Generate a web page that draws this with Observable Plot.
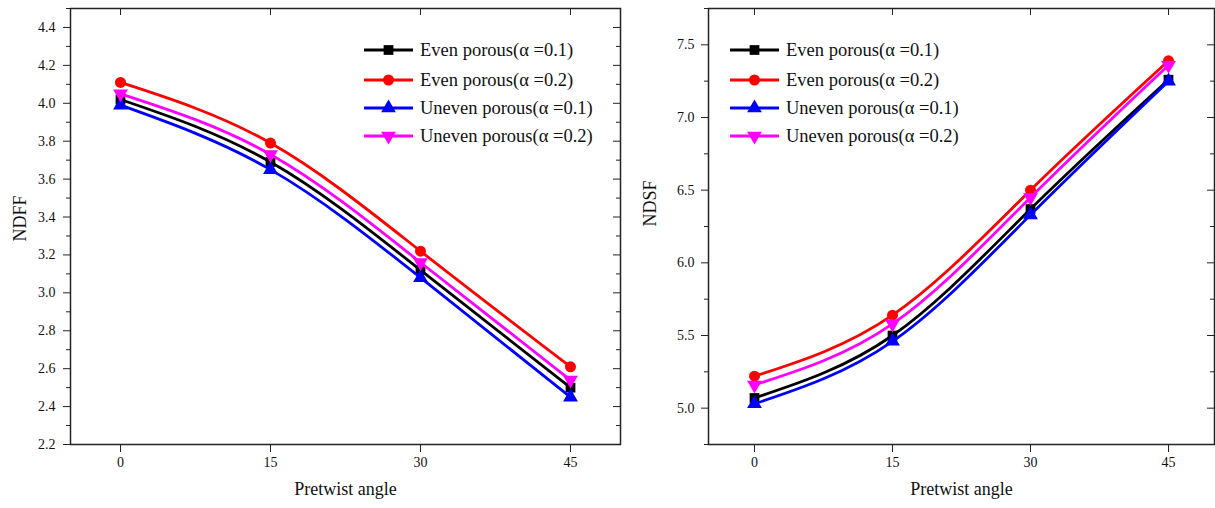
<!DOCTYPE html>
<html>
<head>
<meta charset="utf-8">
<script src="https://cdn.jsdelivr.net/npm/d3@7"></script>
<script src="https://cdn.jsdelivr.net/npm/@observablehq/plot@0.6"></script>
<style>
  body { margin: 0; background: #fff; }
  #fig { position: relative; width: 1215px; height: 508px; overflow: hidden;
         font-family: "Liberation Serif", "Times New Roman", serif; }
  #fig > svg { position: absolute; top: 0; }
</style>
</head>
<body>
<div id="fig"></div>
<script>
// Pretwist angles (degrees) shared by both panels
const angles = [0, 15, 30, 45];

// Series definitions
const seriesNames = ["Even porous(α =0.1)", "Even porous(α =0.2)", "Uneven porous(α =0.1)", "Uneven porous(α =0.2)"];
const seriesColors = ["#000000", "#ff0000", "#0000ff", "#ff00ff"];
const seriesSymbols = ["square", "circle", "triangle", "triangle"];
const seriesRotate = [0, 0, 0, 180];

// Non-dimensional fundamental frequency
const ndffEven01 = [4.02, 3.69, 3.12, 2.50];
const ndffEven02 = [4.11, 3.79, 3.22, 2.61];
const ndffUneven01 = [3.99, 3.65, 3.08, 2.45];
const ndffUneven02 = [4.05, 3.73, 3.16, 2.54];

// Non-dimensional second frequency
const ndsfEven01 = [5.07, 5.50, 6.37, 7.26];
const ndsfEven02 = [5.22, 5.64, 6.50, 7.39];
const ndsfUneven01 = [5.03, 5.46, 6.33, 7.25];
const ndsfUneven02 = [5.16, 5.58, 6.45, 7.36];

// Axis ticks
const ndffTicks = [2.2, 2.4, 2.6, 2.8, 3.0, 3.2, 3.4, 3.6, 3.8, 4.0, 4.2, 4.4];
const ndffMinor = [2.3, 2.5, 2.7, 2.9, 3.1, 3.3, 3.5, 3.7, 3.9, 4.1, 4.3, 4.5];
const ndsfTicks = [5.0, 5.5, 6.0, 6.5, 7.0, 7.5];
const ndsfMinor = [4.75, 5.25, 5.75, 6.25, 6.75, 7.25, 7.75];

const xLabel = "Pretwist angle";

const FONT = '"Liberation Serif", "Times New Roman", serif';
const INK = "#222";
const HEIGHT = 508, M_TOP = 8, M_BOTTOM = 64, M_RIGHT = 1;
const MAJOR = 7, MINOR = 4;
const R = 5.5;
const TICK_FONT = 14;

function panel({left, width, marginLeft, series, yDomain, yTicks, yMinor, yLabel, yLabelDx, yLabelDy, yTickDx}) {
  const W = width - marginLeft - M_RIGHT;
  const H = HEIGHT - M_TOP - M_BOTTOM;
  const marks = [
    Plot.frame({stroke: INK, strokeWidth: 1.5}),
    // minor ticks outside the left edge
    Plot.tickY(yMinor, {y: d => d, stroke: INK, insetRight: W - MINOR, dx: -MINOR}),
    // mirrored ticks pointing inward on the right edge
    Plot.tickY(yTicks, {y: d => d, stroke: INK, insetLeft: W - MAJOR}),
    Plot.tickY(yMinor, {y: d => d, stroke: INK, insetLeft: W - MINOR}),
    // mirrored ticks pointing inward on the top edge
    Plot.tickX(angles, {x: d => d, stroke: INK, insetBottom: H - MAJOR}),
    // tick labels
    Plot.text(yTicks, {y: d => d, text: d => d.toFixed(1), frameAnchor: "left", textAnchor: "end", dx: yTickDx, fontSize: TICK_FONT, fill: "#111"}),
    Plot.text(angles, {x: d => d, text: d => String(d), frameAnchor: "bottom", dy: 22, fontSize: TICK_FONT, fill: "#111"}),
    // axis titles
    Plot.text([xLabel], {frameAnchor: "bottom", dy: 50, fontSize: 18, fill: "#111"}),
    Plot.text([yLabel], {frameAnchor: "left", rotate: -90, dx: yLabelDx, dy: yLabelDy, fontSize: 18, fill: "#111"})
  ];
  series.forEach((vals, s) => {
    const rows = vals.map((v, i) => ({x: angles[i], y: v}));
    marks.push(Plot.line(rows, {x: "x", y: "y", stroke: seriesColors[s], strokeWidth: 2.8, curve: "natural"}));
    marks.push(Plot.dot(rows, {x: "x", y: "y", fill: seriesColors[s], stroke: "none", symbol: seriesSymbols[s], rotate: seriesRotate[s], r: R}));
  });
  const svg = Plot.plot({
    width, height: HEIGHT,
    marginLeft, marginRight: M_RIGHT, marginTop: M_TOP, marginBottom: M_BOTTOM,
    style: {fontFamily: FONT, fontSize: "13px", color: INK, background: "transparent", overflow: "visible"},
    x: {domain: [-5, 50], ticks: angles, tickSize: 8, tickFormat: () => "", label: null},
    y: {domain: yDomain, ticks: yTicks, tickSize: MAJOR, tickFormat: () => "", label: null},
    marks
  });
  svg.style.left = left + "px";
  return svg;
}

// Line-and-symbol legend drawn inside each panel
function legend(svg, x0, rows) {
  const g = svg.append("g").attr("font-family", FONT).attr("font-size", 18.5).attr("text-anchor", "start");
  rows.forEach((y, s) => {
    g.append("line").attr("x1", x0).attr("x2", x0 + 49).attr("y1", y).attr("y2", y)
      .attr("stroke", seriesColors[s]).attr("stroke-width", 3);
    const type = {square: d3.symbolSquare, circle: d3.symbolCircle, triangle: d3.symbolTriangle}[seriesSymbols[s]];
    g.append("path").attr("d", d3.symbol(type, Math.PI * R * R)())
      .attr("transform", `translate(${x0 + 24.5},${y}) rotate(${seriesRotate[s]})`)
      .attr("fill", seriesColors[s]);
    g.append("text").attr("x", x0 + 56).attr("y", y).attr("dy", "0.35em")
      .attr("fill", "#111").text(seriesNames[s]);
  });
}

const fig = document.getElementById("fig");

const left = panel({
  left: 0, width: 621, marginLeft: 70,
  series: [ndffEven01, ndffEven02, ndffUneven01, ndffUneven02],
  yDomain: [2.2, 4.5], yTicks: ndffTicks, yMinor: ndffMinor,
  yLabel: "NDFF", yLabelDx: -50, yLabelDy: 15, yTickDx: -15
});
const right = panel({
  left: 620, width: 595, marginLeft: 88,
  series: [ndsfEven01, ndsfEven02, ndsfUneven01, ndsfUneven02],
  yDomain: [4.75, 7.75], yTicks: ndsfTicks, yMinor: ndsfMinor,
  yLabel: "NDSF", yLabelDx: -58, yLabelDy: 0, yTickDx: -14
});
fig.appendChild(left);
fig.appendChild(right);

legend(d3.select(left), 364, [50, 80, 108, 136]);
legend(d3.select(right), 730 - 620, [50, 80, 108, 136]);
</script>
</body>
</html>
